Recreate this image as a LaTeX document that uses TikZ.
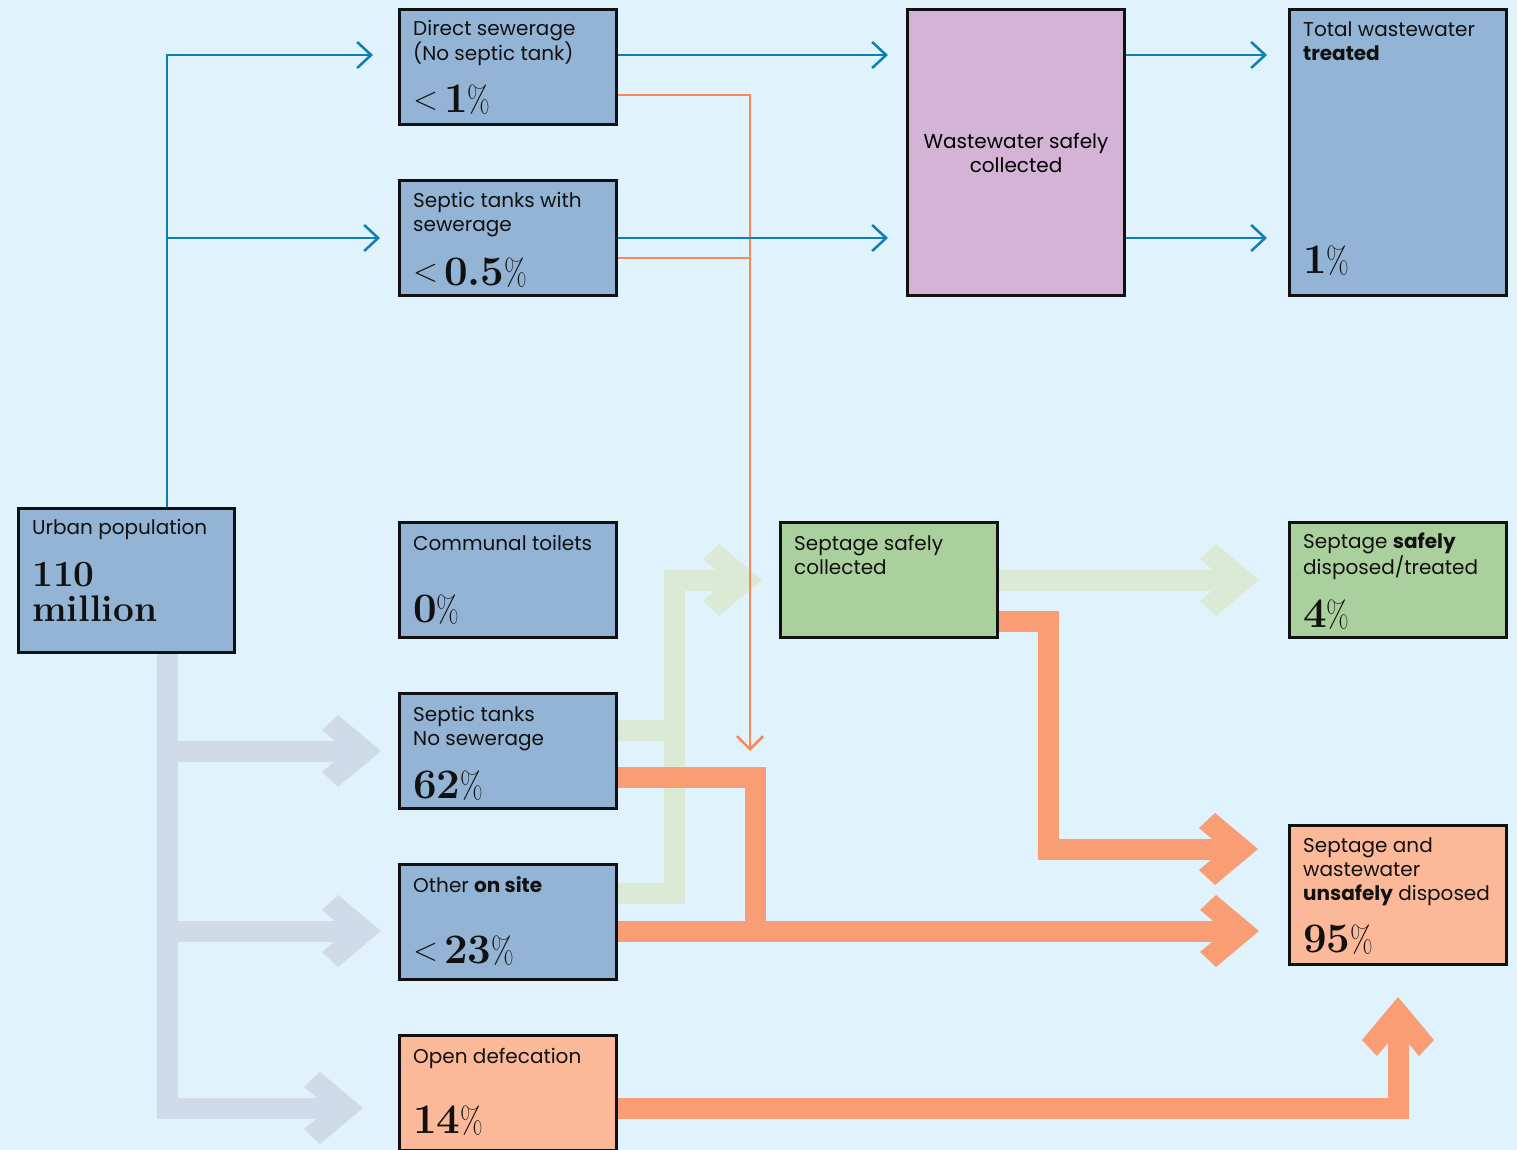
\documentclass[tikz,border=0pt]{standalone}
\usepackage{fontspec}
\setsansfont{Poppins}
\usepackage{graphicx}
\usetikzlibrary{arrows.meta,positioning}

\definecolor{sky}{HTML}{E0F3FC}
\definecolor{ink}{HTML}{111111}
\definecolor{urbanblue}{HTML}{93B4D4}
\definecolor{lilac}{HTML}{D3B4D7}
\definecolor{sage}{HTML}{AAD09E}
\definecolor{peach}{HTML}{FBB999}
\definecolor{coral}{HTML}{F89D74}
\definecolor{mint}{HTML}{DBEAD4}
\definecolor{mist}{HTML}{CFDBE8}
\definecolor{flowblue}{HTML}{0E7FB3}
\definecolor{leakorange}{HTML}{F5895A}

% head of the wide flows
\pgfdeclarearrow{
  name = Chevron,
  setup code = {
    \pgfarrowssettipend{0pt}
    \pgfarrowssetlineend{-22pt}
    \pgfarrowssetbackend{-59pt}
  },
  drawing code = {
    \pgfpathmoveto{\pgfqpoint{0pt}{0pt}}
    \pgfpathlineto{\pgfqpoint{-43pt}{36pt}}
    \pgfpathlineto{\pgfqpoint{-59pt}{21pt}}
    \pgfpathlineto{\pgfqpoint{-34pt}{0pt}}
    \pgfpathlineto{\pgfqpoint{-59pt}{-21pt}}
    \pgfpathlineto{\pgfqpoint{-43pt}{-36pt}}
    \pgfpathclose
    \pgfusepathqfill
  }
}

\newcommand\pct{\scalebox{.7}[.88]{\mdseries\%}}
\newcommand\ltmark{\raisebox{3pt}{\scalebox{.78}{\mdseries<}}\hspace{6pt}}

\begin{document}
\begin{tikzpicture}[x=1pt,y=-1pt,
    stage/.style={draw=ink,line width=3pt,minimum width=217pt,minimum height=115pt,inner sep=0pt},
    caption/.style={font=\sffamily\fontsize{20}{24}\selectfont,text=ink,anchor=base west,align=left,inner sep=0pt},
    share/.style={font=\fontsize{42}{38}\selectfont\bfseries,text=ink,anchor=base west,align=left,inner sep=0pt},
    flow/.style={color=flowblue,line width=2.5pt,-{Straight Barb[length=14pt,width=26pt]}},
    leak/.style={color=leakorange,line width=2.5pt,-{Straight Barb[length=13pt,width=26pt]}},
    band/.style={color=#1,line width=21pt,line join=miter,-{Chevron}}]

    \useasboundingbox (0,0) rectangle (1517,1150);
    \fill[sky] (0,0) rectangle (1517,1150);

    % Define stages
    \node[stage,fill=urbanblue] (ds) at (508,67) {};
    \node[stage,fill=urbanblue] (sws) [below=53pt of ds] {};
    \node[stage,fill=urbanblue] (ct) [below=224pt of sws] {};
    \node[stage,fill=urbanblue] (sns) [below=53pt of ct] {};
    \node[stage,fill=urbanblue] (oos) [below=53pt of sns] {};
    \node[stage,fill=peach] (od) [below=53pt of oos] {};
    \node[stage,fill=urbanblue,minimum width=216pt,minimum height=144pt] (urb) [left=162pt of ct] {};
    \node[stage,fill=lilac,minimum height=286pt,font=\sffamily\fontsize{20}{24}\selectfont,align=center] (wsc) at (1016,152.5) {Wastewater safely\\collected};
    \node[stage,fill=urbanblue,minimum height=286pt] (twt) [right=162pt of wsc] {};
    \node[stage,fill=sage] (ssc) [right=161pt of ct] {};
    \node[stage,fill=sage] (ssd) [right=289pt of ssc] {};
    \node[stage,fill=peach,minimum height=139pt] (uwd) [below=185pt of ssd] {};

    % Lanes
    \coordinate (trunk) at (167,0);
    \coordinate (row1) at (0,55);
    \coordinate (row2) at (0,238);
    \coordinate (dsleak) at (0,95);
    \coordinate (swsleak) at (0,258);
    \coordinate (drop) at (750,0);
    \coordinate (otherrow) at (0,931);
    \coordinate (openrow) at (0,1108);
    \coordinate (greenrow) at (0,893);
    \coordinate (stubrow) at (0,730);
    \coordinate (greencol) at (674,0);
    \coordinate (sludgerow) at (0,777);
    \coordinate (sludgecol) at (755.5,0);
    \coordinate (tankrow) at (0,621);
    \coordinate (tankcol) at (1048.5,0);
    \coordinate (dumprow) at (0,849);

    % Draw wide flows
    \draw[band=mist,shorten >=35pt] (trunk |- urb.south) -- (trunk |- openrow) -- (od.west |- openrow);
    \draw[band=mist,shorten >=17pt] (trunk |- sns.west) -- (sns.west);
    \draw[band=mist,shorten >=17pt] (trunk |- otherrow) -- (oos.west |- otherrow);
    \draw[band=mint,-] (sns.east |- stubrow) -- (greencol |- stubrow);
    \draw[band=mint,shorten >=17pt] (oos.east |- greenrow) -| (greencol |- ssc.west) -- (ssc.west);
    \draw[band=mint,shorten >=29pt] (ssc.east) -- (ssd.west);
    \draw[band=coral,-] (sns.east |- sludgerow) -| (sludgecol |- otherrow);
    \draw[band=coral,shorten >=29pt] (oos.east |- otherrow) -- (uwd.west |- otherrow);
    \draw[band=coral,shorten >=30pt] (ssc.east |- tankrow) -| (tankcol |- dumprow) -- (uwd.west |- dumprow);
    \draw[band=coral,shorten >=31pt] (od.east |- openrow) -| (uwd.south);

    % Draw pipes
    \draw[leak,-] (sws.east |- swsleak) -- (drop |- swsleak);
    \draw[leak] (ds.east |- dsleak) -| (drop |- sns.west);
    \draw[flow,shorten >=25pt] (trunk |- urb.north) |- (ds.west |- row1);
    \draw[flow,shorten >=18pt] (trunk |- row2) -- (sws.west |- row2);
    \draw[flow,shorten >=18pt] (ds.east |- row1) -- (wsc.west |- row1);
    \draw[flow,shorten >=18pt] (sws.east |- row2) -- (wsc.west |- row2);
    \draw[flow,shorten >=21pt] (wsc.east |- row1) -- (twt.west |- row1);
    \draw[flow,shorten >=21pt] (wsc.east |- row2) -- (twt.west |- row2);

    % Labels (base = last line)
    \node[caption] (urb-t) at ([shift={(15,28)}]urb.north west) {Urban population};
    \node[share,font=\fontsize{37}{35}\selectfont\bfseries] (urb-n) at ([shift={(15,115)}]urb.north west) {110\\million};
    \node[caption] (ds-t) at ([shift={(15,53)}]ds.north west) {Direct sewerage\\(No septic tank)};
    \node[share] (ds-n) at ([shift={(15,-13)}]ds.south west) {\ltmark 1\pct};
    \node[caption] (sws-t) at ([shift={(15,53)}]sws.north west) {Septic tanks with\\sewerage};
    \node[share] (sws-n) at ([shift={(15,-12)}]sws.south west) {\ltmark 0.5\pct};
    \node[caption] (ct-t) at ([shift={(15,29)}]ct.north west) {Communal toilets};
    \node[share] (ct-n) at ([shift={(15,-17)}]ct.south west) {0\pct};
    \node[caption] (sns-t) at ([shift={(15,53)}]sns.north west) {Septic tanks\\No sewerage};
    \node[share] (sns-n) at ([shift={(15,-12)}]sns.south west) {62\pct};
    \node[caption] (oos-t) at ([shift={(15,29)}]oos.north west) {Other \textbf{on site}};
    \node[share] (oos-n) at ([shift={(15,-18)}]oos.south west) {\ltmark 23\pct};
    \node[caption] (od-t) at ([shift={(15,29)}]od.north west) {Open defecation};
    \node[share] (od-n) at ([shift={(15,99)}]od.north west) {14\pct};
    \node[caption] (twt-t) at ([shift={(15,53)}]twt.north west) {Total wastewater\\\textbf{treated}};
    \node[share] (twt-n) at ([shift={(15,-24)}]twt.south west) {1\pct};
    \node[caption] (ssc-t) at ([shift={(15,53)}]ssc.north west) {Septage safely\\collected};
    \node[caption] (ssd-t) at ([shift={(15,53)}]ssd.north west) {Septage \textbf{safely}\\disposed/treated};
    \node[share] (ssd-n) at ([shift={(15,-12)}]ssd.south west) {4\pct};
    \node[caption] (uwd-t) at ([shift={(15,76)}]uwd.north west) {Septage and\\wastewater\\\textbf{unsafely} disposed};
    \node[share] (uwd-n) at ([shift={(15,-14)}]uwd.south west) {95\pct};

\end{tikzpicture}
\end{document}
